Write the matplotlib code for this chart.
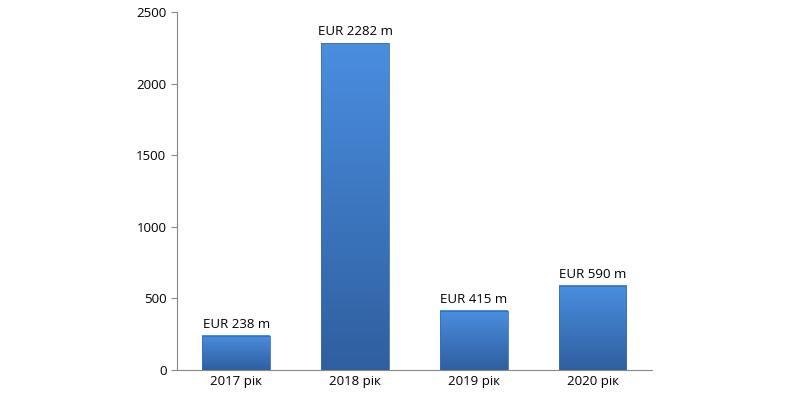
import numpy as np
import matplotlib.pyplot as plt
from matplotlib.colors import LinearSegmentedColormap

years = ['2017 рік', '2018 рік', '2019 рік', '2020 рік']
values = [238, 2282, 415, 590]
labels = ['EUR 238 m', 'EUR 2282 m', 'EUR 415 m', 'EUR 590 m']

plt.rcParams['font.family'] = ['Open Sans', 'DejaVu Sans']
fig = plt.figure(figsize=(8, 4), dpi=100)
ax = fig.add_axes([0.221, 0.075, 0.594, 0.895])

x = np.arange(len(years))
bars = ax.bar(x, values, width=0.57, color='none', edgecolor='#3a6fb0', linewidth=0.6, zorder=3)

# vertical gradient fill for each bar
cmap = LinearSegmentedColormap.from_list('blu', ['#2f5f9f', '#4a8ee0'])
grad = np.linspace(0, 1, 256).reshape(-1, 1)
for b in bars:
    x0, w, h = b.get_x(), b.get_width(), b.get_height()
    ax.imshow(grad, extent=[x0, x0 + w, 0, h], origin='lower', aspect='auto',
              cmap=cmap, zorder=2)

for xi, v, t in zip(x, values, labels):
    ax.text(xi, v + 35, t, ha='center', va='bottom', fontsize=9.5)

ax.set_xlim(-0.5, len(years) - 0.5)
ax.set_ylim(0, 2500)
ax.set_yticks(range(0, 2501, 500))
ax.set_xticks(x)
ax.set_xticklabels(years)
ax.tick_params(labelsize=9.5, length=0)
ax.tick_params(axis='y', length=4, color='#888888', direction='out')
for s in ['top', 'right']:
    ax.spines[s].set_visible(False)
for s in ['left', 'bottom']:
    ax.spines[s].set_color('#888888')

fig.savefig('out.png', dpi=100)
